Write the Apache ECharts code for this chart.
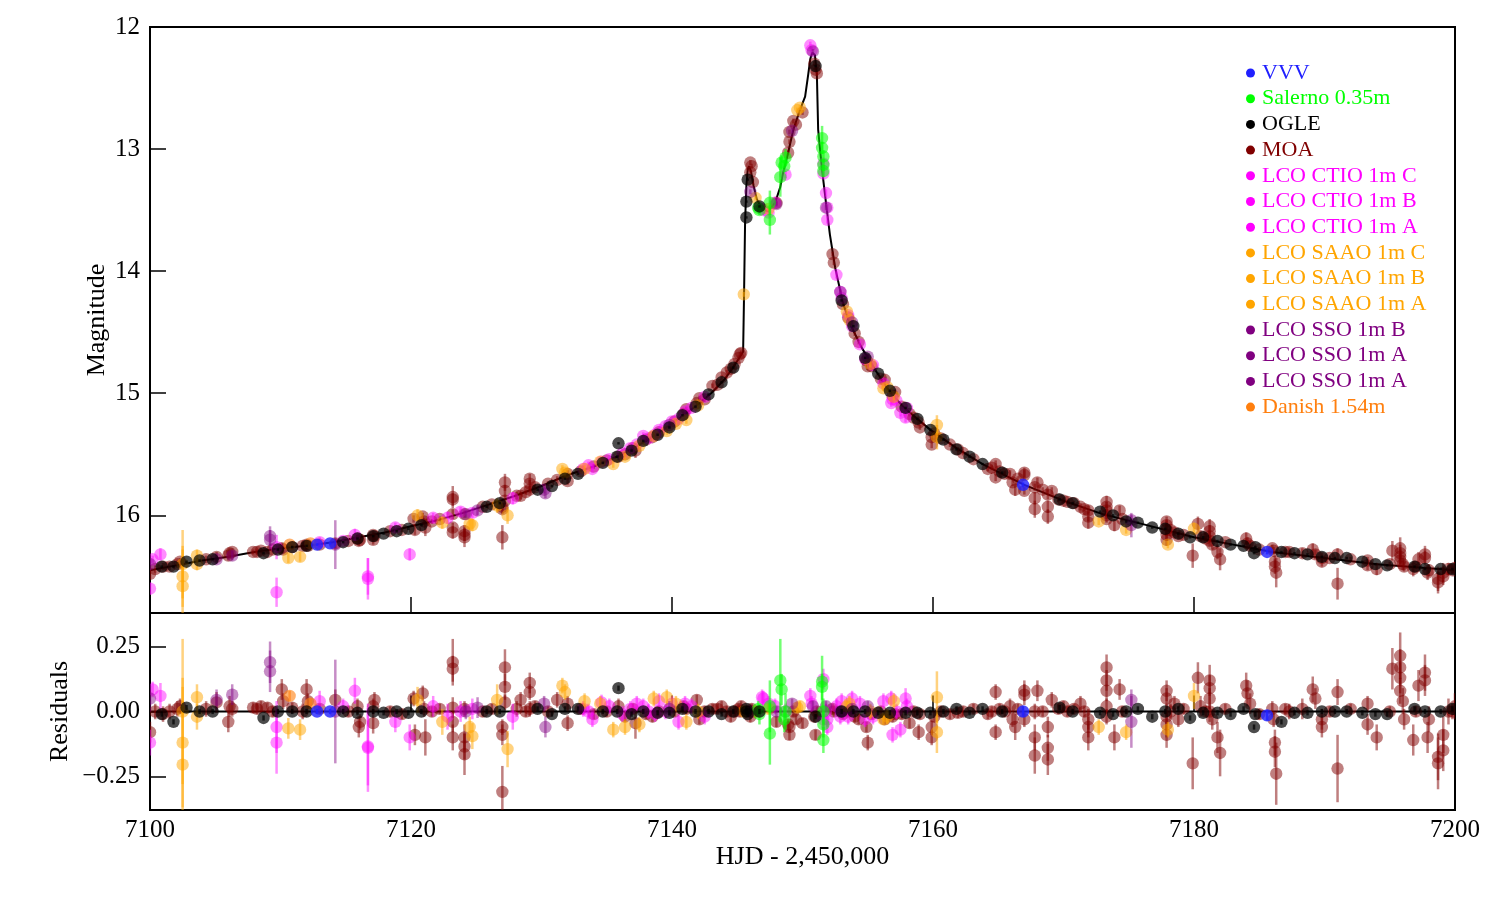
<!DOCTYPE html>
<html><head><meta charset="utf-8">
<script src="https://cdn.jsdelivr.net/npm/echarts@6/dist/echarts.min.js"></script>
<style>html,body{margin:0;padding:0;background:#fff}#chart{width:1500px;height:900px}</style>
</head><body><div id="chart"></div>
<script>
// ---------------- data ----------------
const xTicks = [7100, 7120, 7140, 7160, 7180, 7200];
const magTicks = [12, 13, 14, 15, 16];
const resTicks = [-0.25, 0, 0.25];

// model light curve
const modelT = [7100,7102,7104,7106,7108,7110,7112,7114,7116,7118,7120,7122,7124,7126,7128,7130,7132,7134,7136,7138,7140,7141,7142,7143,7144,7144.6,7145.1,7145.45,7145.52,7145.6,7145.7,7145.8,7145.9,7146.05,7146.25,7146.5,7146.9,7147.35,7147.9,7148.3,7148.5,7148.9,7149.3,7149.8,7150.2,7150.45,7150.6,7150.75,7150.95,7151.1,7151.2,7151.5,7151.8,7152.1,7152.5,7153.1,7153.6,7154.5,7155.7,7156.7,7157.8,7159.8,7161.8,7163.8,7165.1,7167,7170,7173,7176,7180,7183,7186,7190,7194,7200];
const modelMag = [16.45,16.41,16.37,16.34,16.30,16.27,16.25,16.22,16.18,16.14,16.09,16.04,15.98,15.91,15.84,15.76,15.67,15.60,15.51,15.39,15.25,15.17,15.09,15.00,14.89,14.80,14.72,14.66,14.2,13.6,13.3,13.17,13.14,13.18,13.30,13.41,13.49,13.51,13.44,13.31,13.20,13.03,12.84,12.68,12.57,12.38,12.26,12.21,12.23,12.38,12.84,13.17,13.44,13.70,13.97,14.26,14.42,14.62,14.83,14.99,15.12,15.30,15.45,15.58,15.65,15.75,15.88,15.99,16.07,16.18,16.24,16.30,16.35,16.40,16.45];
const zeroT = [7100, 7200];
const zeroRes = [0, 0];

// observations: [HJD-2450000, magnitude, residual, error]
const vvv = [[7112.8,16.24,0.0,0.01],[7113.8,16.23,0.0,0.01],[7166.9,15.75,0.0,0.02],[7185.6,16.30,-0.015,0.02]];
const salerno = [[7146.6,13.48,0.01,0.03],[7146.7,13.50,-0.01,0.04],[7147.5,13.44,0.02,0.1],[7147.5,13.58,-0.085,0.12],[7148.3,13.23,0.12,0.16],[7148.4,13.11,0.085,0.06],[7148.7,13.07,0.0,0.07],[7148.6,13.14,-0.03,0.05],[7151.5,12.91,0.115,0.1],[7151.5,12.99,0.095,0.05],[7151.6,13.06,0.0,0.05],[7151.6,13.13,-0.05,0.05],[7151.6,13.18,-0.11,0.05]];
const ogle = [[7100.9,16.42,-0.01,0.01],[7101.8,16.42,-0.04,0.01],[7102.8,16.38,0.015,0.01],[7103.8,16.37,0.0,0.01],[7104.8,16.36,0.0,0.01],[7108.7,16.31,-0.025,0.01],[7109.8,16.28,0.0,0.01],[7110.9,16.26,0.0,0.01],[7112.0,16.25,0.0,0.01],[7114.8,16.22,0.0,0.01],[7115.9,16.19,-0.005,0.01],[7117.1,16.17,0.0,0.01],[7117.9,16.15,-0.005,0.01],[7118.9,16.13,0.0,0.01],[7119.8,16.11,-0.005,0.01],[7120.8,16.08,0.0,0.01],[7125.8,15.93,0.0,0.01],[7126.8,15.90,0.0,0.01],[7129.7,15.79,0.01,0.01],[7130.8,15.76,-0.01,0.01],[7131.8,15.70,0.01,0.01],[7132.8,15.66,0.01,0.01],[7134.7,15.57,0.0,0.01],[7135.8,15.52,0.0,0.01],[7135.9,15.41,0.09,0.01],[7136.9,15.47,-0.01,0.01],[7137.8,15.39,0.0,0.01],[7138.9,15.34,-0.005,0.01],[7139.8,15.28,-0.005,0.01],[7140.8,15.18,0.01,0.01],[7141.8,15.11,0.0,0.01],[7142.8,15.01,0.0,0.01],[7143.8,14.91,-0.01,0.01],[7144.7,14.79,0.0,0.01],[7145.7,13.56,0.0,0.01],[7145.7,13.43,0.01,0.01],[7145.8,13.25,-0.01,0.01],[7146.7,13.47,0.0,0.01],[7151.0,12.32,-0.02,0.01],[7153.0,14.24,0.0,0.01],[7153.9,14.45,0.0,0.01],[7154.8,14.71,0.0,0.01],[7155.8,14.84,-0.005,0.01],[7156.7,14.98,-0.005,0.01],[7157.9,15.12,-0.005,0.01],[7158.8,15.21,-0.005,0.01],[7159.8,15.30,-0.005,0.01],[7160.8,15.38,0.0,0.01],[7161.8,15.46,0.01,0.01],[7162.8,15.52,-0.005,0.01],[7163.8,15.58,0.01,0.01],[7165.3,15.65,0.0,0.01],[7169.7,15.87,0.015,0.01],[7170.7,15.90,0.0,0.01],[7172.8,15.97,-0.005,0.01],[7173.8,16.00,-0.01,0.01],[7174.8,16.05,0.0,0.01],[7175.7,16.06,0.01,0.01],[7176.8,16.10,-0.02,0.01],[7177.8,16.11,0.0,0.01],[7178.8,16.15,0.01,0.01],[7179.7,16.18,-0.025,0.01],[7180.7,16.18,-0.005,0.01],[7181.8,16.21,-0.005,0.01],[7182.8,16.24,-0.01,0.01],[7183.8,16.25,0.01,0.01],[7184.6,16.31,-0.06,0.01],[7184.7,16.26,-0.01,0.01],[7186.7,16.30,-0.04,0.01],[7187.7,16.31,-0.005,0.01],[7188.7,16.32,-0.005,0.01],[7189.8,16.34,0.0,0.01],[7190.8,16.35,0.0,0.01],[7191.7,16.35,0.0,0.01],[7192.9,16.38,-0.005,0.01],[7193.9,16.40,-0.01,0.01],[7194.8,16.41,-0.01,0.01],[7196.9,16.42,0.01,0.01],[7197.7,16.44,0.0,0.01],[7198.9,16.44,0.0,0.01],[7199.8,16.44,0.01,0.01]];
const moa = [[7100.0,16.48,-0.08,0.04],[7100.4,16.44,0.0,0.03],[7101.0,16.42,-0.01,0.03],[7101.5,16.42,0.0,0.03],[7102.1,16.40,0.01,0.03],[7102.3,16.38,0.02,0.03],[7104.3,16.36,0.01,0.03],[7105.1,16.34,0.035,0.04],[7106.1,16.31,0.02,0.04],[7106.0,16.33,-0.04,0.04],[7106.3,16.30,0.01,0.03],[7107.9,16.30,0.015,0.02],[7108.2,16.30,0.01,0.02],[7108.5,16.29,0.02,0.02],[7109.0,16.30,0.015,0.02],[7109.4,16.28,0.0,0.02],[7110.1,16.27,0.085,0.04],[7110.2,16.28,0.04,0.03],[7110.9,16.26,0.015,0.02],[7111.7,16.25,0.0,0.03],[7112.0,16.24,0.085,0.04],[7112.1,16.25,0.04,0.03],[7113.0,16.24,0.01,0.02],[7114.2,16.23,0.045,0.04],[7115.2,16.21,0.0,0.02],[7115.9,16.19,0.02,0.03],[7116.0,16.21,-0.06,0.04],[7116.1,16.20,-0.04,0.03],[7117.1,16.16,0.02,0.03],[7117.2,16.17,0.045,0.03],[7117.1,16.20,-0.045,0.04],[7118.4,16.13,0.0,0.02],[7119.3,16.12,-0.01,0.02],[7120.2,16.03,0.05,0.03],[7120.3,16.12,-0.09,0.04],[7120.9,16.01,0.07,0.03],[7121.1,16.10,-0.1,0.07],[7121.0,16.05,0.01,0.03],[7121.6,16.05,0.0,0.02],[7122.2,16.03,0.01,0.02],[7123.2,15.85,0.19,0.09],[7123.2,15.87,0.165,0.05],[7123.2,15.99,0.015,0.04],[7123.2,16.10,-0.04,0.04],[7123.2,16.14,-0.1,0.05],[7124.1,15.99,0.01,0.03],[7124.1,16.13,-0.1,0.05],[7124.1,16.16,-0.135,0.05],[7124.1,16.18,-0.165,0.08],[7125.5,15.93,0.0,0.02],[7126.2,15.91,0.01,0.02],[7127.0,16.18,-0.31,0.1],[7127.2,15.73,0.17,0.07],[7127.2,15.80,0.095,0.05],[7127.2,15.88,0.035,0.03],[7127.0,15.93,-0.06,0.03],[7127.0,15.95,-0.09,0.04],[7128.1,15.84,0.01,0.03],[7128.4,15.84,0.045,0.03],[7128.8,15.81,0.0,0.02],[7129.1,15.70,0.11,0.04],[7129.1,15.74,0.075,0.03],[7129.1,15.79,0.01,0.03],[7129.5,15.77,0.02,0.02],[7130.5,15.74,0.0,0.02],[7131.2,15.71,0.045,0.03],[7132.0,15.66,0.03,0.03],[7132.0,15.72,-0.045,0.03],[7133.0,15.64,0.01,0.02],[7134.0,15.60,-0.01,0.02],[7135.0,15.55,0.0,0.02],[7135.9,15.52,0.02,0.03],[7136.4,15.50,-0.02,0.02],[7137.0,15.45,0.01,0.02],[7137.2,15.47,-0.045,0.06],[7138.0,15.38,-0.01,0.02],[7138.5,15.36,-0.02,0.02],[7139.0,15.32,0.0,0.02],[7140.2,15.23,0.0,0.02],[7140.9,15.17,0.02,0.02],[7141.1,15.13,0.01,0.02],[7141.9,15.08,0.045,0.02],[7142.1,15.04,-0.03,0.02],[7142.5,15.05,0.0,0.02],[7143.1,14.94,0.01,0.02],[7143.5,14.93,0.01,0.02],[7143.8,14.87,0.02,0.02],[7144.2,14.83,0.0,0.02],[7144.5,14.80,-0.02,0.02],[7144.8,14.76,0.0,0.02],[7145.1,14.71,0.01,0.02],[7145.2,14.68,0.0,0.02],[7145.3,14.67,0.02,0.02],[7146.0,13.11,0.0,0.02],[7146.1,13.14,0.01,0.02],[7146.0,13.19,-0.02,0.02],[7146.2,13.27,0.0,0.02],[7148.0,13.44,-0.04,0.02],[7148.9,13.03,-0.05,0.02],[7149.0,12.94,-0.09,0.02],[7149.0,12.86,-0.06,0.02],[7149.3,12.77,0.0,0.02],[7149.5,12.80,-0.03,0.02],[7150.0,12.70,-0.045,0.02],[7150.9,12.30,-0.02,0.02],[7151.0,12.35,-0.09,0.02],[7151.1,12.38,0.0,0.02],[7152.3,13.86,0.01,0.02],[7152.4,13.93,0.0,0.02],[7153.1,14.27,-0.01,0.02],[7153.5,14.38,0.0,0.02],[7154.0,14.51,-0.02,0.02],[7154.3,14.58,-0.03,0.02],[7154.9,14.73,-0.06,0.02],[7155.0,14.78,-0.12,0.03],[7155.3,14.78,-0.01,0.02],[7156.0,14.88,0.0,0.02],[7156.3,14.89,-0.03,0.02],[7156.9,15.02,-0.02,0.02],[7157.1,14.99,-0.01,0.02],[7157.6,15.11,-0.01,0.02],[7158.2,15.17,-0.045,0.02],[7158.5,15.20,0.0,0.02],[7158.9,15.24,-0.08,0.03],[7159.0,15.28,-0.01,0.02],[7159.9,15.42,-0.1,0.03],[7159.9,15.36,-0.06,0.03],[7160.1,15.33,-0.02,0.02],[7160.6,15.37,0.0,0.02],[7161.3,15.42,-0.01,0.02],[7161.9,15.46,-0.005,0.02],[7162.3,15.49,0.0,0.02],[7163.1,15.54,0.01,0.02],[7164.2,15.62,-0.01,0.02],[7164.5,15.61,0.0,0.02],[7164.8,15.58,0.075,0.03],[7164.8,15.69,-0.08,0.03],[7165.1,15.64,0.01,0.02],[7165.5,15.66,0.0,0.02],[7165.9,15.66,0.02,0.03],[7166.1,15.73,-0.03,0.03],[7166.3,15.79,-0.06,0.05],[7166.5,15.70,0.01,0.02],[7167.0,15.65,0.08,0.04],[7167.0,15.67,0.065,0.04],[7167.0,15.80,-0.03,0.03],[7167.8,15.77,0.0,0.03],[7167.8,15.86,-0.1,0.05],[7167.8,15.95,-0.17,0.07],[7168.0,15.73,0.08,0.04],[7168.4,15.79,0.0,0.02],[7168.8,15.83,-0.06,0.04],[7168.8,15.93,-0.14,0.05],[7168.8,16.01,-0.185,0.06],[7169.1,15.80,0.045,0.03],[7169.6,15.87,0.01,0.02],[7170.0,15.88,0.02,0.02],[7170.3,15.89,0.0,0.02],[7170.8,15.90,0.01,0.02],[7171.3,15.93,0.03,0.03],[7171.9,15.96,-0.03,0.04],[7171.9,16.01,-0.06,0.04],[7171.9,16.06,-0.1,0.05],[7171.6,15.95,0.0,0.02],[7173.3,15.89,0.17,0.05],[7173.3,15.93,0.12,0.04],[7173.3,15.96,0.08,0.04],[7173.3,16.00,0.02,0.03],[7173.3,16.03,-0.02,0.03],[7173.9,16.08,-0.1,0.05],[7174.3,15.96,0.085,0.04],[7174.5,16.03,0.0,0.02],[7177.9,16.05,0.08,0.04],[7177.9,16.08,0.05,0.04],[7177.9,16.12,-0.02,0.05],[7177.9,16.16,-0.05,0.05],[7177.9,16.20,-0.09,0.05],[7178.2,16.12,0.0,0.03],[7178.5,16.14,0.03,0.03],[7178.8,16.17,-0.03,0.03],[7179.2,16.16,0.01,0.02],[7179.9,16.33,-0.2,0.1],[7180.3,16.07,0.13,0.06],[7180.5,16.17,0.02,0.04],[7180.9,16.19,0.0,0.02],[7181.2,16.09,0.12,0.06],[7181.2,16.13,0.09,0.05],[7181.2,16.17,0.05,0.04],[7181.2,16.21,0.0,0.04],[7181.4,16.24,-0.03,0.04],[7181.8,16.30,-0.1,0.06],[7182.0,16.36,-0.16,0.09],[7182.4,16.22,0.01,0.02],[7184.0,16.19,0.1,0.05],[7184.1,16.23,0.07,0.05],[7184.3,16.25,0.03,0.04],[7185.0,16.28,-0.01,0.02],[7186.0,16.27,0.01,0.03],[7186.1,16.29,-0.03,0.03],[7186.2,16.38,-0.12,0.05],[7186.2,16.42,-0.155,0.06],[7186.3,16.47,-0.24,0.12],[7187.0,16.30,0.01,0.02],[7187.3,16.30,0.0,0.03],[7188.3,16.31,0.01,0.04],[7189.1,16.28,0.085,0.05],[7189.3,16.32,0.05,0.04],[7189.8,16.35,-0.03,0.04],[7189.8,16.38,-0.06,0.04],[7190.4,16.35,0.0,0.02],[7191.0,16.56,-0.22,0.13],[7191.0,16.32,0.075,0.05],[7192.0,16.36,0.01,0.02],[7193.3,16.37,0.03,0.03],[7193.3,16.41,-0.05,0.04],[7194.0,16.44,-0.1,0.05],[7195.0,16.40,0.0,0.02],[7195.2,16.29,0.165,0.08],[7195.8,16.27,0.215,0.09],[7195.8,16.31,0.17,0.07],[7195.8,16.34,0.13,0.06],[7195.8,16.37,0.08,0.05],[7196.0,16.40,0.04,0.05],[7196.1,16.42,-0.03,0.04],[7196.8,16.44,-0.11,0.06],[7197.0,16.42,0.0,0.02],[7197.2,16.36,0.1,0.06],[7197.7,16.32,0.15,0.07],[7197.7,16.35,0.12,0.06],[7197.9,16.47,-0.1,0.06],[7198.0,16.45,-0.03,0.05],[7198.7,16.55,-0.175,0.09],[7198.7,16.52,-0.2,0.1],[7199.1,16.50,-0.09,0.07],[7199.1,16.47,-0.15,0.08],[7199.5,16.44,0.0,0.05],[7199.8,16.45,0.0,0.03],[7200.0,16.43,0.02,0.05]];
const ctioC = [[7150.6,12.15,0.06,0.03],[7150.7,12.19,0.03,0.03],[7151.8,13.36,0.0,0.03],[7152.9,14.17,-0.02,0.03],[7157.9,15.20,0.05,0.04]];
const ctioB = [[7133.6,15.59,0.0,0.03],[7137.8,15.35,0.02,0.03],[7146.9,13.49,0.055,0.03],[7151.6,13.12,0.125,0.04],[7153.8,14.45,0.05,0.03],[7156.8,15.08,0.05,0.03]];
const ctioA = [[7100.2,16.36,0.085,0.03],[7100.0,16.60,-0.12,0.05],[7100.8,16.32,0.06,0.05],[7109.7,16.63,-0.12,0.12],[7109.7,16.26,-0.06,0.1],[7113.0,16.22,0.04,0.04],[7114.8,16.21,0.02,0.03],[7115.7,16.16,0.08,0.05],[7116.7,16.50,-0.135,0.15],[7116.7,16.52,-0.14,0.17],[7118.8,16.10,-0.04,0.04],[7119.9,16.32,-0.1,0.05],[7121.7,16.02,0.02,0.04],[7122.8,16.02,-0.02,0.05],[7123.8,15.97,0.0,0.04],[7124.7,15.98,0.01,0.04],[7127.8,15.86,-0.02,0.05],[7133.2,15.62,0.01,0.03],[7133.9,15.62,-0.03,0.03],[7134.6,15.56,0.035,0.03],[7135.2,15.54,0.02,0.03],[7136.2,15.49,-0.01,0.03],[7136.8,15.45,0.01,0.03],[7137.3,15.42,0.03,0.03],[7138.2,15.37,0.0,0.03],[7138.7,15.34,-0.01,0.03],[7139.0,15.30,0.04,0.03],[7139.5,15.27,0.0,0.03],[7140.0,15.23,0.03,0.03],[7140.5,15.21,-0.04,0.03],[7141.0,15.15,0.03,0.03],[7141.5,15.12,0.02,0.03],[7142.5,15.03,-0.02,0.03],[7147.0,13.50,0.05,0.03],[7147.4,13.52,0.03,0.03],[7147.9,13.44,0.02,0.03],[7148.7,13.21,0.0,0.03],[7151.6,13.20,-0.03,0.04],[7151.9,13.48,-0.03,0.03],[7151.9,13.58,-0.06,0.03],[7152.6,14.03,0.02,0.03],[7153.0,14.22,0.04,0.03],[7153.5,14.36,-0.02,0.03],[7154.4,14.60,0.03,0.03],[7154.8,14.72,-0.03,0.03],[7155.4,14.77,-0.02,0.03],[7156.2,14.92,0.04,0.03],[7156.9,15.05,-0.09,0.03],[7157.2,15.06,0.0,0.03],[7157.5,15.16,-0.07,0.03],[7158.0,15.12,0.02,0.03]];
const saaoC = [[7145.5,14.19,0.0,0.02],[7149.6,12.68,0.015,0.02],[7149.8,12.66,0.02,0.02],[7153.4,14.33,0.02,0.02]];
const saaoB = [[7134.5,15.56,0.03,0.03],[7139.6,15.31,0.055,0.03],[7146.4,13.40,0.0,0.02],[7147.4,13.49,0.01,0.02],[7156.2,14.96,-0.03,0.02],[7160.3,15.36,0.055,0.1]];
const saaoA = [[7102.5,16.50,-0.12,0.25],[7102.5,16.58,-0.205,0.3],[7102.5,16.40,0.0,0.28],[7103.6,16.33,0.055,0.05],[7103.6,16.40,-0.02,0.05],[7110.6,16.35,-0.065,0.04],[7111.5,16.34,-0.07,0.04],[7120.5,16.00,0.045,0.05],[7122.4,16.06,-0.04,0.05],[7124.5,16.07,-0.06,0.04],[7124.7,16.08,-0.095,0.05],[7126.6,15.92,0.045,0.06],[7127.4,16.00,-0.145,0.07],[7131.6,15.62,0.1,0.03],[7131.8,15.65,0.075,0.03],[7133.3,15.62,0.04,0.03],[7135.5,15.58,-0.07,0.03],[7136.4,15.52,-0.06,0.03],[7137.5,15.43,-0.05,0.03],[7138.6,15.35,0.05,0.03],[7140.3,15.25,0.03,0.03],[7141.1,15.22,-0.04,0.03],[7142.0,15.10,0.0,0.03],[7153.6,14.40,0.03,0.03],[7155.2,14.76,0.0,0.03],[7156.5,14.95,-0.02,0.03],[7157.0,15.03,0.04,0.03],[7160.3,15.26,-0.08,0.08],[7172.7,16.05,-0.06,0.03],[7174.8,16.12,-0.08,0.03],[7178.0,16.24,-0.07,0.03],[7180.0,16.11,0.06,0.05]];
const ssoB = [[7109.2,16.17,0.19,0.08],[7109.2,16.20,0.155,0.08],[7114.2,16.24,0.0,0.2],[7175.2,16.04,0.045,0.04]];
const ssoA = [[7100.0,16.40,0.05,0.05],[7105.1,16.36,0.045,0.04],[7106.3,16.33,0.065,0.04],[7125.1,15.96,0.015,0.04],[7130.3,15.82,-0.06,0.04],[7139.8,15.26,0.01,0.03],[7146.0,13.35,0.0,0.02]];
const ssoA2 = [[7124.2,15.99,0.0,0.03],[7130.2,15.79,0.03,0.03],[7148.0,13.45,0.0,0.02],[7149.2,12.85,0.03,0.02],[7150.8,12.20,0.02,0.02],[7151.8,13.48,0.02,0.02],[7152.9,14.17,0.0,0.02],[7153.8,14.42,0.01,0.02],[7155.0,14.70,0.02,0.02],[7175.2,16.08,-0.04,0.1]];
const danish = [[7110.7,16.24,0.06,0.02],[7112.3,16.23,0.03,0.02]];

// ---------------- chart ----------------
const FONT = "'Liberation Serif','DejaVu Serif',serif";
const sets = [
  {name:'VVV', color:'#2020ff', rows:vvv, a:0.8},
  {name:'Salerno 0.35m', color:'#00ff00', rows:salerno, a:0.55},
  {name:'OGLE', color:'#000000', rows:ogle, a:0.7},
  {name:'MOA', color:'#800000', rows:moa, a:0.5},
  {name:'LCO CTIO 1m C', color:'#ff00ff', rows:ctioC, a:0.45},
  {name:'LCO CTIO 1m B', color:'#ff00ff', rows:ctioB, a:0.45},
  {name:'LCO CTIO 1m A', color:'#ff00ff', rows:ctioA, a:0.45},
  {name:'LCO SAAO 1m C', color:'#ffa500', rows:saaoC, a:0.5},
  {name:'LCO SAAO 1m B', color:'#ffa500', rows:saaoB, a:0.5},
  {name:'LCO SAAO 1m A', color:'#ffa500', rows:saaoA, a:0.5},
  {name:'LCO SSO 1m B', color:'#800080', rows:ssoB, a:0.45},
  {name:'LCO SSO 1m A', color:'#800080', rows:ssoA, a:0.45},
  {name:'LCO SSO 1m A ', color:'#800080', rows:ssoA2, a:0.45},
  {name:'Danish 1.54m', color:'#ff7f0e', rows:danish, a:0.6}
];
const drawOrder = [3,4,5,6,7,8,9,10,11,12,13,1,2,0];

function makeRender(color, alpha){
  return function(params, api){
    const t = api.value(0), y = api.value(1), e = api.value(2);
    const c = api.coord([t, y]);
    const p1 = api.coord([t, y - e]);
    const p2 = api.coord([t, y + e]);
    return {type:'group', children:[
      {type:'line', shape:{x1:c[0], y1:p1[1], x2:c[0], y2:p2[1]}, style:{stroke:color, lineWidth:2.5, opacity:alpha}},
      {type:'circle', shape:{cx:c[0], cy:c[1], r:6.2}, style:{fill:color, opacity:alpha}}
    ]};
  };
}

const series = [];
series.push({type:'line', name:'model', xAxisIndex:0, yAxisIndex:0, data:modelT.map((t,i)=>[t, modelMag[i]]), showSymbol:false, symbol:'none', lineStyle:{color:'#000', width:2}, itemStyle:{color:'#000'}, z:1, silent:true});
series.push({type:'line', name:'zero', xAxisIndex:1, yAxisIndex:1, data:zeroT.map((t,i)=>[t, zeroRes[i]]), showSymbol:false, symbol:'none', lineStyle:{color:'#000', width:2}, itemStyle:{color:'#000'}, z:1, silent:true});
drawOrder.forEach(k => {
  const s = sets[k];
  series.push({type:'custom', name:s.name, xAxisIndex:0, yAxisIndex:0, clip:true, z:2,
    itemStyle:{color:s.color}, renderItem:makeRender(s.color, s.a),
    data:s.rows.map(r=>[r[0], r[1], r[3]])});
  series.push({type:'custom', name:s.name, xAxisIndex:1, yAxisIndex:1, clip:true, z:2,
    itemStyle:{color:s.color}, renderItem:makeRender(s.color, s.a),
    data:s.rows.map(r=>[r[0], r[2], r[3]])});
});

const tickStyle = {show:true, inside:true, length:16, lineStyle:{color:'#000', width:1.5}};
const labelStyle = {color:'#000', fontFamily:FONT, fontSize:25};
const nameStyle = {color:'#000', fontFamily:FONT, fontSize:26};

const option = {
  animation:false,
  backgroundColor:'#fff',
  legend:{
    orient:'vertical', left:1246, top:62, padding:0, itemGap:3.7,
    itemWidth:13, itemHeight:9, icon:'circle',
    itemStyle:{opacity:1},
    textStyle:{fontFamily:FONT, fontSize:22, lineHeight:22, padding:[0,0,0,0]},
    data:sets.map(s=>({name:s.name, icon:'circle', textStyle:{color:s.color}})),
    selectedMode:false
  },
  grid:[
    {left:150, right:45, top:27, height:586, show:true, borderColor:'#000', borderWidth:2, backgroundColor:'transparent'},
    {left:150, right:45, top:613, height:197, show:true, borderColor:'#000', borderWidth:2, backgroundColor:'transparent'}
  ],
  xAxis:[
    {type:'value', gridIndex:0, min:7100, max:7200, interval:20,
      axisLine:{show:false}, splitLine:{show:false},
      axisTick:Object.assign({customValues:xTicks}, tickStyle),
      axisLabel:{show:false}},
    {type:'value', gridIndex:1, min:7100, max:7200, interval:20,
      axisLine:{show:false}, splitLine:{show:false},
      axisTick:Object.assign({customValues:xTicks}, tickStyle),
      axisLabel:Object.assign({customValues:xTicks, margin:8, formatter:v=>String(v)}, labelStyle),
      name:'HJD - 2,450,000', nameLocation:'middle', nameGap:34, nameMoveOverlap:false,
      nameTextStyle:nameStyle}
  ],
  yAxis:[
    {type:'value', gridIndex:0, inverse:true, min:12, max:16.8,
      axisLine:{show:false}, splitLine:{show:false},
      axisTick:Object.assign({customValues:magTicks}, tickStyle),
      axisLabel:Object.assign({customValues:magTicks, margin:10, formatter:v=>String(v)}, labelStyle),
      name:'Magnitude', nameLocation:'middle', nameGap:40, nameRotate:90, nameMoveOverlap:false,
      nameTextStyle:nameStyle},
    {type:'value', gridIndex:1, min:-0.38, max:0.38,
      axisLine:{show:false}, splitLine:{show:false},
      axisTick:Object.assign({customValues:resTicks}, tickStyle),
      axisLabel:Object.assign({customValues:resTicks, margin:10, formatter:v=>(v<0?'\u2212':'')+Math.abs(v).toFixed(2)}, labelStyle),
      name:'Residuals', nameLocation:'middle', nameGap:77, nameRotate:90, nameMoveOverlap:false,
      nameTextStyle:nameStyle}
  ],
  series:series
};

const chart = echarts.init(document.getElementById('chart'), null, {renderer:'canvas'});
chart.setOption(option);
</script>
</body></html>
